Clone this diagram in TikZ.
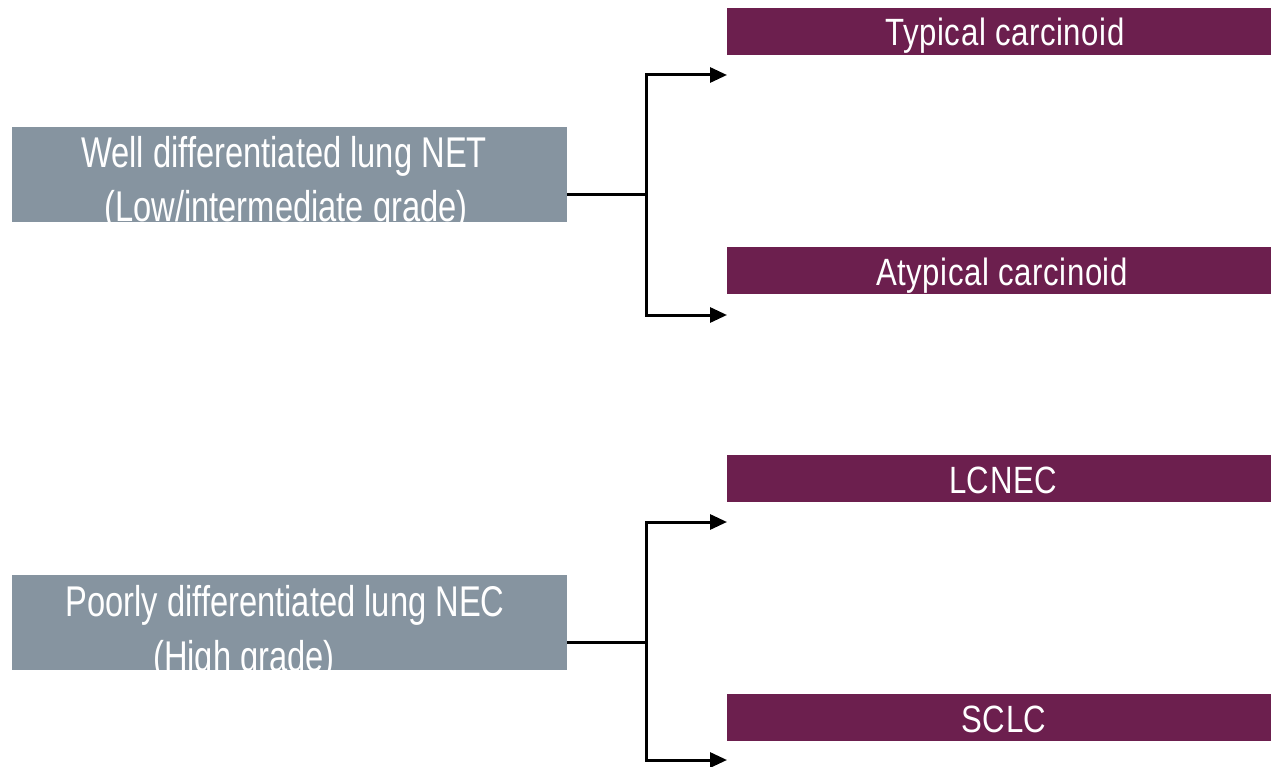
\documentclass[tikz,border=0pt]{standalone}
\usepackage{fontspec}
\setmainfont{Liberation Sans}[FakeStretch=0.76]
\newfontfamily\spacedfont{Liberation Sans}[FakeStretch=0.82,LetterSpace=1.5]
\usetikzlibrary{arrows.meta}
\definecolor{boxgray}{RGB}{134,148,160}
\definecolor{boxpurple}{RGB}{108,31,78}
\begin{document}
\begin{tikzpicture}[x=1pt,y=-1pt,
  graybox/.style={draw=none,fill=boxgray,minimum width=555pt,minimum height=95pt,inner sep=0pt,outer sep=0pt},
  purplebox/.style={draw=none,fill=boxpurple,minimum width=544pt,minimum height=47pt,inner sep=0pt,outer sep=0pt},
  txt/.style={anchor=base,text=white,inner sep=0pt,font=\fontsize{43}{50}\selectfont},
  ptxt/.style={anchor=base,text=white,inner sep=0pt,font=\spacedfont\fontsize{38}{44}\selectfont},
  conn/.style={draw=black,line width=3pt},
  arr/.style={conn,-{Triangle[length=17pt,width=15pt]}}]
\useasboundingbox (0,0) rectangle (1271,767);
% gray boxes
\node[graybox] (g1) at (289.5,174.5) {};
\node[graybox] (g2) at (289.5,622.5) {};
\begin{scope}
  \clip (g1.north west) rectangle (g1.south east);
  \node[txt] (g1a) at (284,168) {Well differentiated lung NET};
  \node[txt] (g1b) at (286,222) {(Low/intermediate grade)};
\end{scope}
\begin{scope}
  \clip (g2.north west) rectangle (g2.south east);
  \node[txt] (g2a) at (285,616) {Poorly differentiated lung NEC};
  \node[txt] (g2b) at (244,671) {(High grade)};
\end{scope}
% purple boxes
\node[purplebox] (p1) at (999,31.5) {};
\node[purplebox] (p2) at (999,270.5) {};
\node[purplebox] (p3) at (999,478.5) {};
\node[purplebox] (p4) at (999,717.5) {};
\node[ptxt] (p1t) at (1005,46) {Typical carcinoid};
\node[ptxt] (p2t) at (1002,285) {Atypical carcinoid};
\node[ptxt] (p3t) at (1003,493) {LCNEC};
\node[ptxt] (p4t) at (1004,732) {SCLC};
% connectors
\coordinate (j1) at (646,195);
\coordinate (j2) at (646,642);
\coordinate (t1) at (727,75);
\coordinate (t2) at (727,315);
\coordinate (t3) at (727,522);
\coordinate (t4) at (727,760);
\draw[conn] (g1.east |- j1) -- (j1);
\draw[conn] (g2.east |- j2) -- (j2);
\draw[arr] (j1) |- (t1);
\draw[arr] (j1) |- (t2);
\draw[arr] (j2) |- (t3);
\draw[arr] (j2) |- (t4);
\end{tikzpicture}
\end{document}
